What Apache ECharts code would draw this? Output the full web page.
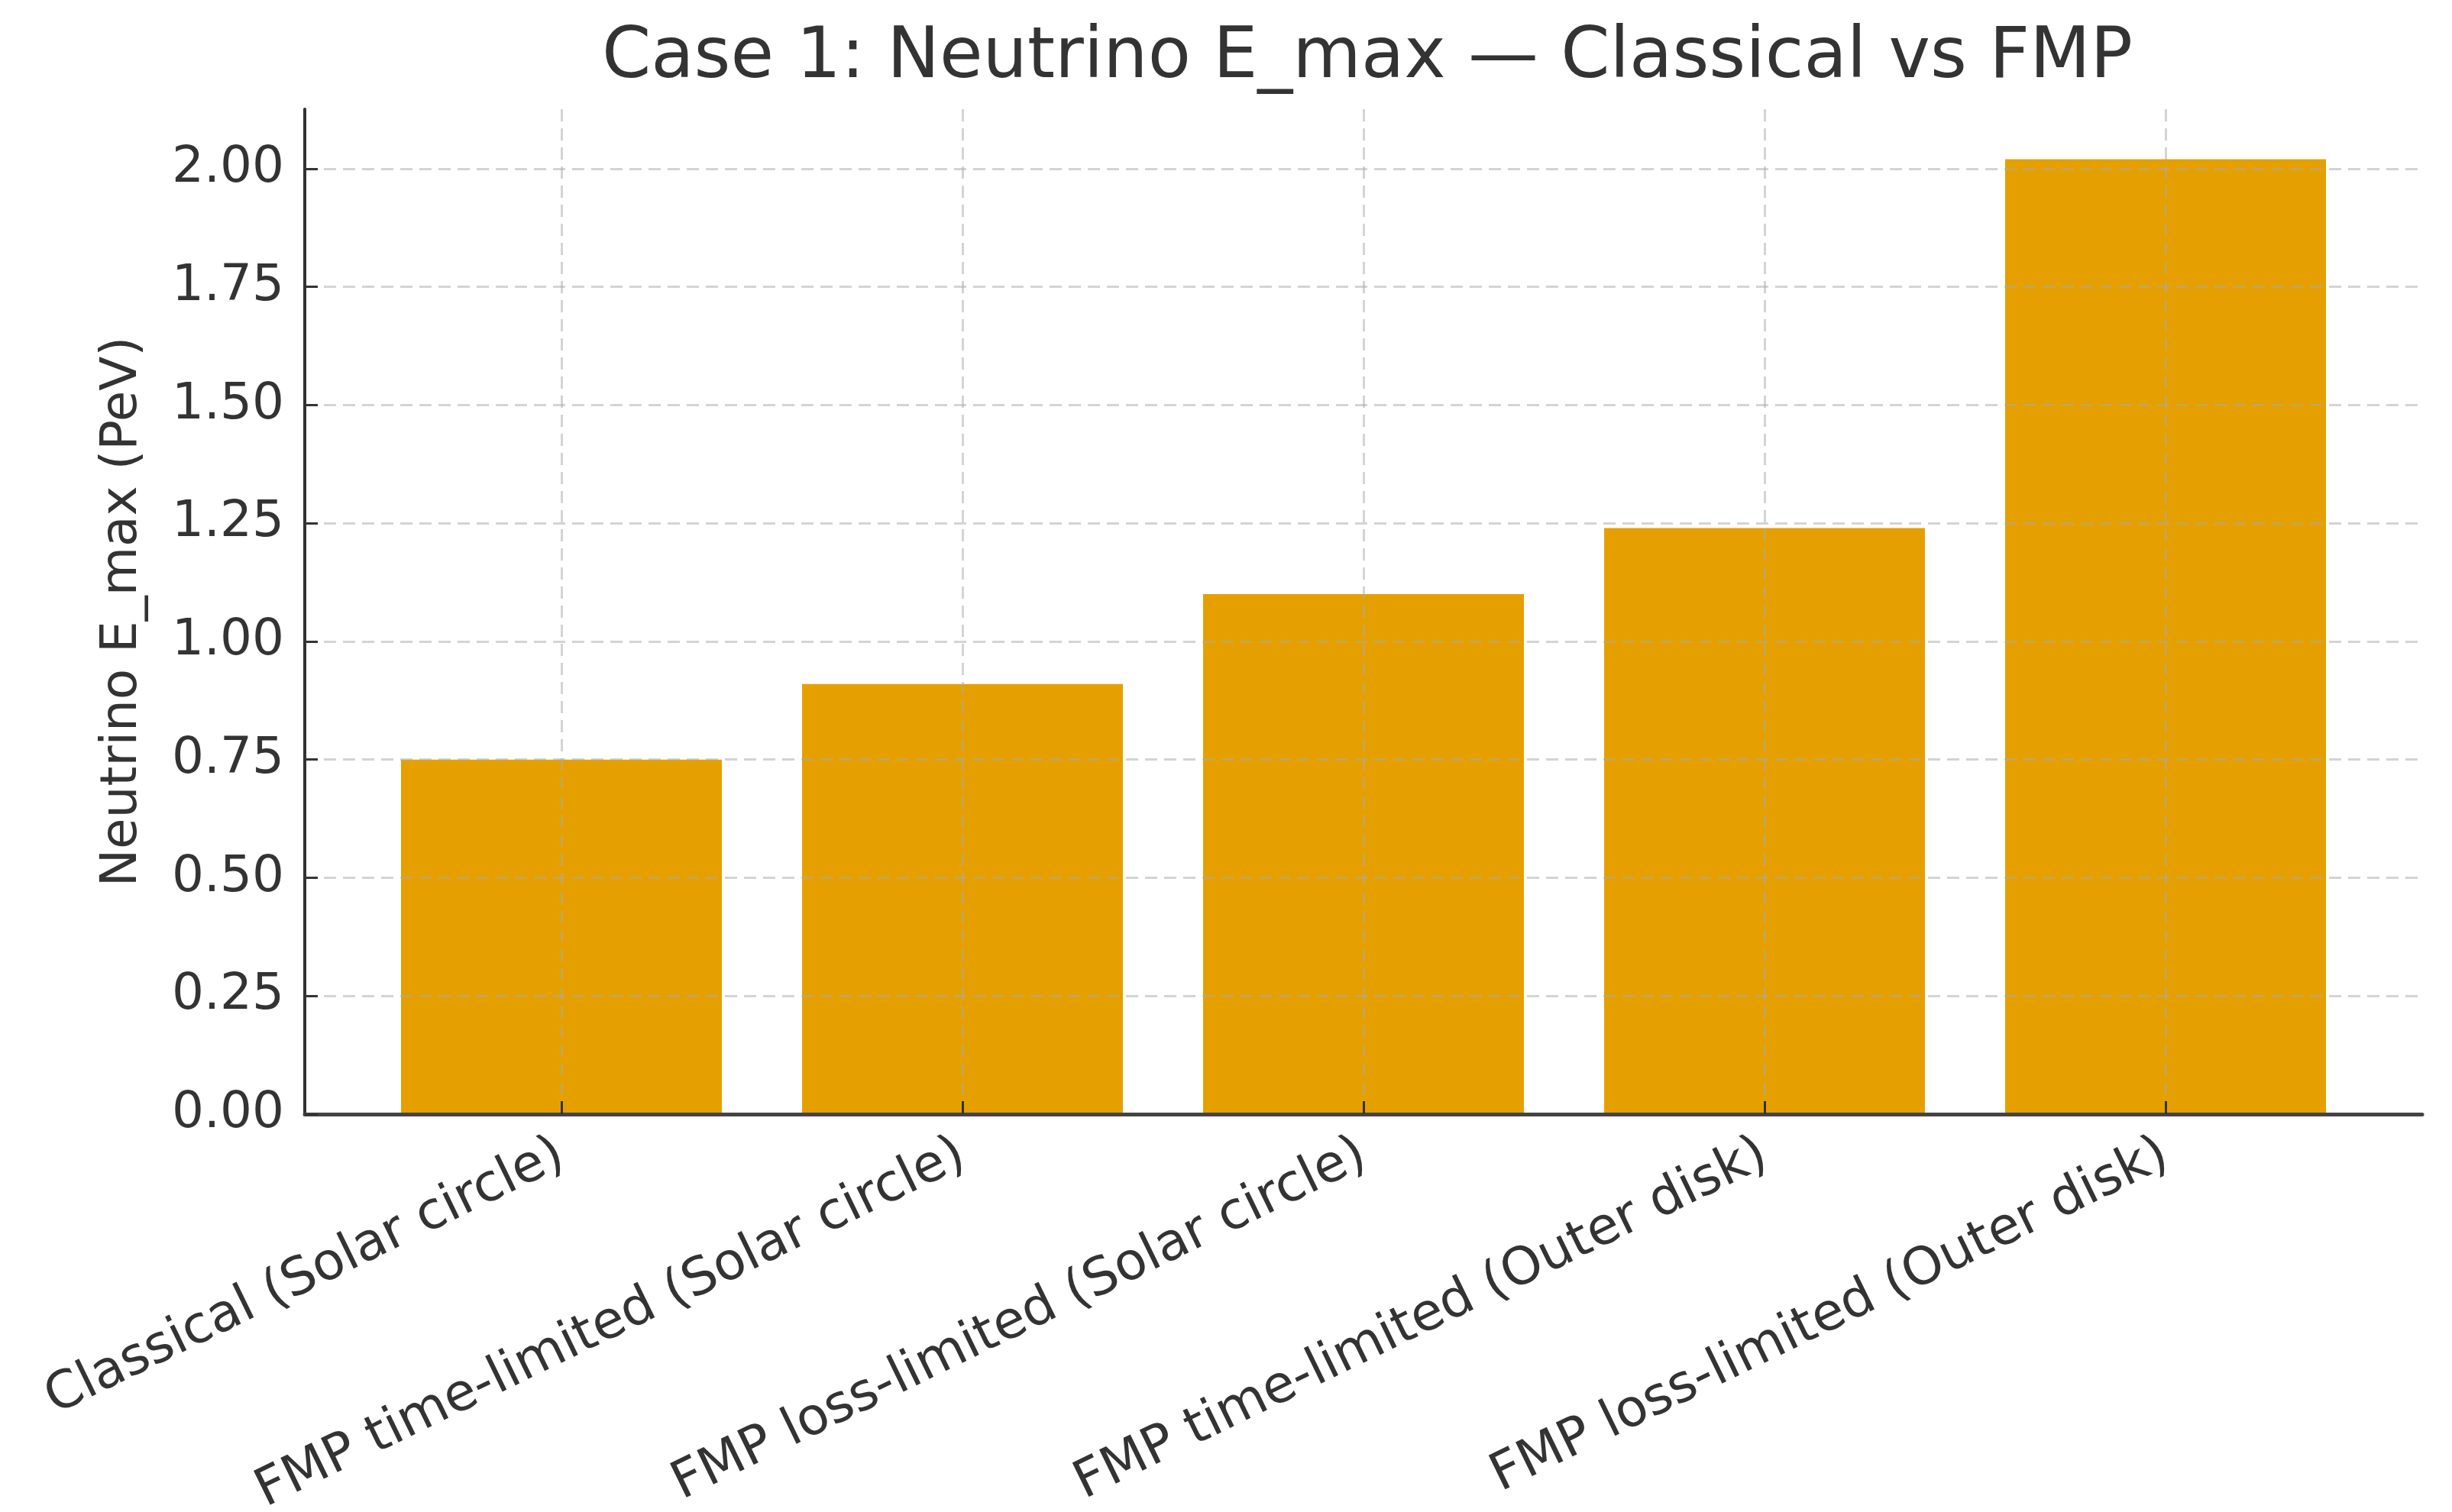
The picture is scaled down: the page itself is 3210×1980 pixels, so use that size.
<!DOCTYPE html>
<html>
<head>
<meta charset="utf-8">
<script src="https://cdn.jsdelivr.net/npm/echarts@6/dist/echarts.min.js"></script>
<style>
html,body{margin:0;padding:0;background:#fff;}
#chart{width:3210px;height:1980px;}
</style>
</head>
<body>
<div id="chart"></div>
<script>
const titleText = 'Case 1: Neutrino E_max \u2014 Classical vs FMP';
const yAxisTitle = 'Neutrino E_max (PeV)';
const categories = [
  'Classical (Solar circle)',
  'FMP time-limited (Solar circle)',
  'FMP loss-limited (Solar circle)',
  'FMP time-limited (Outer disk)',
  'FMP loss-limited (Outer disk)'
];
const values = [0.75, 0.91, 1.10, 1.24, 2.02];
const yTicks = [0, 0.25, 0.5, 0.75, 1.0, 1.25, 1.5, 1.75, 2.0];

const FONT = 'DejaVu Sans';
const TXT = '#333333';
const gridStyle = { color: 'rgba(170,170,170,0.5)', width: 3, type: [16, 9] };

const chart = echarts.init(document.getElementById('chart'), null, { renderer: 'canvas' });
const catIdx = categories.map((_, i) => i);
const vMax = Math.max(...values);

chart.setOption({
  animation: false,
  backgroundColor: '#ffffff',
  title: {
    text: titleText,
    left: 1785,
    top: 26,
    textAlign: 'center',
    textStyle: { fontFamily: FONT, fontSize: 92, fontWeight: 'normal', color: TXT }
  },
  grid: { left: 399, right: 39, top: 143, bottom: 521, containLabel: false, outerBoundsMode: 'none' },
  xAxis: {
    type: 'value',
    min: -0.64,
    max: categories.length - 1 + 0.64,
    z: 10,
    axisLine: { show: true, onZero: false, lineStyle: { color: '#444', width: 5 } },
    axisTick: { show: true, inside: true, length: 17, customValues: catIdx, lineStyle: { color: '#333', width: 3 } },
    axisLabel: {
      customValues: catIdx,
      formatter: v => categories[Math.round(v)] || '',
      rotate: 26,
      margin: 50,
      fontFamily: FONT, fontSize: 68, color: TXT
    },
    splitLine: { show: true, lineStyle: gridStyle }
  },
  yAxis: {
    type: 'value',
    min: 0,
    max: Math.round(vMax * 1.0525 * 1000) / 1000,
    z: 10,
    name: yAxisTitle,
    nameLocation: 'middle',
    nameGap: 205,
    nameTextStyle: { fontFamily: FONT, fontSize: 66, color: TXT },
    axisLine: { show: true, onZero: false, lineStyle: { color: '#333', width: 4 } },
    axisTick: { show: true, inside: true, length: 17, customValues: yTicks, lineStyle: { color: '#333', width: 3 } },
    axisLabel: {
      customValues: yTicks,
      formatter: v => v.toFixed(2),
      margin: 27,
      fontFamily: FONT, fontSize: 66, color: TXT
    },
    splitLine: { show: true, lineStyle: gridStyle }
  },
  series: [{
    type: 'bar',
    data: values.map((v, i) => [i, v]),
    barWidth: '80%',
    itemStyle: { color: '#E5A000' },
    z: 2
  }]
});
</script>
</body>
</html>
